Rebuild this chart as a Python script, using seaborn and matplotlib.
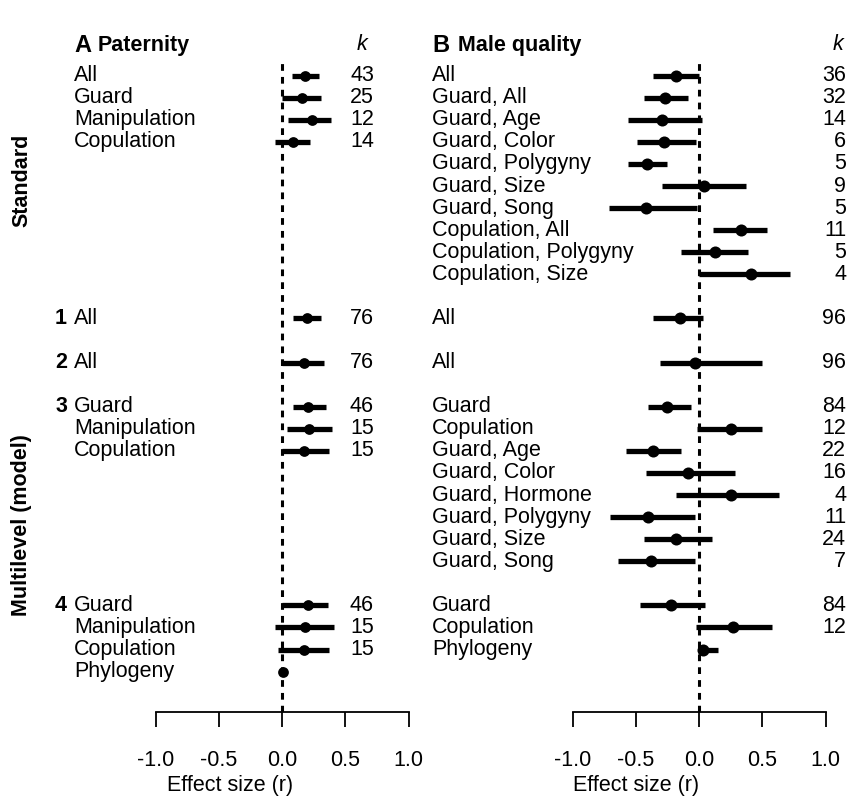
import matplotlib
matplotlib.use("Agg")
import matplotlib.pyplot as plt
import seaborn as sns
import pandas as pd

# --- datos: panel A (Paternity) ---
pat_labels = ["All", "Guard", "Manipulation", "Copulation",
              "All", "All",
              "Guard", "Manipulation", "Copulation",
              "Guard", "Manipulation", "Copulation", "Phylogeny"]
pat_est = [0.18, 0.16, 0.235, 0.085, 0.20, 0.17, 0.205, 0.21, 0.175, 0.205, 0.185, 0.175, 0.01]
pat_lo = [0.08, 0.0, 0.05, -0.055, 0.085, 0.0, 0.085, 0.04, 0.0, 0.0, -0.055, -0.035, 0.0]
pat_hi = [0.29, 0.31, 0.39, 0.22, 0.31, 0.33, 0.35, 0.395, 0.375, 0.365, 0.41, 0.375, 0.035]
pat_k = ["43", "25", "12", "14", "76", "76", "46", "15", "15", "46", "15", "15", ""]

# --- datos: panel B (Male quality) ---
mq_labels = ["All", "Guard, All", "Guard, Age", "Guard, Color", "Guard, Polygyny",
             "Guard, Size", "Guard, Song", "Copulation, All", "Copulation, Polygyny",
             "Copulation, Size",
             "All", "All",
             "Guard", "Copulation", "Guard, Age", "Guard, Color", "Guard, Hormone",
             "Guard, Polygyny", "Guard, Size", "Guard, Song",
             "Guard", "Copulation", "Phylogeny"]
mq_est = [-0.18, -0.27, -0.29, -0.275, -0.41, 0.04, -0.42, 0.335, 0.13, 0.415,
          -0.15, -0.03,
          -0.25, 0.255, -0.365, -0.09, 0.25, -0.40, -0.185, -0.38,
          -0.22, 0.265, 0.035]
mq_lo = [-0.36, -0.435, -0.56, -0.49, -0.56, -0.29, -0.71, 0.11, -0.145, 0.0,
         -0.36, -0.31,
         -0.40, -0.015, -0.58, -0.42, -0.18, -0.70, -0.435, -0.64,
         -0.465, -0.02, 0.0]
mq_hi = [0.0, -0.09, 0.02, -0.025, -0.25, 0.37, -0.015, 0.535, 0.39, 0.72,
         0.03, 0.495,
         -0.06, 0.495, -0.145, 0.285, 0.635, -0.03, 0.10, -0.03,
         0.05, 0.575, 0.15]
mq_k = ["36", "32", "14", "6", "5", "9", "5", "11", "5", "4", "96", "96",
        "84", "12", "22", "16", "4", "11", "24", "7", "84", "12", ""]

model_nums = ["1", "2", "3", "4"]

# filas (posicion vertical de cada estimacion)
pat_rows = [0, 1, 2, 3, 11, 13, 15, 16, 17, 24, 25, 26, 27]
mq_rows = list(range(10)) + [11, 13] + list(range(15, 23)) + [24, 25, 26]
model_rows = [11, 13, 15, 24]

sns.set_style("white")
plt.rcParams['font.family'] = ['Liberation Sans', 'DejaVu Sans']
plt.rcParams['text.color'] = 'black'
plt.rcParams['axes.labelcolor'] = 'black'
plt.rcParams['xtick.color'] = 'black'
plt.rcParams['axes.edgecolor'] = 'black'
FS = 15.5

W, H = 847, 798
fig = plt.figure(figsize=(W / 100, H / 100), dpi=100)

PX_UNIT = 126.5  # pixeles por unidad de r
ROW0, ROW_H = 75.7, 22.07
AX_TOP, AX_BOT = 62, 712


def make_ax(x0, x1, zero_px):
    ax = fig.add_axes([x0 / W, 1 - AX_BOT / H, (x1 - x0) / W, (AX_BOT - AX_TOP) / H])
    ax.set_xlim((x0 - zero_px) / PX_UNIT, (x1 - zero_px) / PX_UNIT)
    ax.set_ylim((AX_BOT - ROW0) / ROW_H, (AX_TOP - ROW0) / ROW_H)
    return ax


def panel(ax, labels, est, lo, hi, k, rows, lab_x, k_x, msize):
    df = pd.DataFrame({"label": labels, "est": est, "lo": lo, "hi": hi, "k": k, "row": rows})
    ax.axvline(0, color="black", lw=2.2, ls=(0, (2.2, 2.0)), zorder=1)
    ax.hlines(df["row"], df["lo"], df["hi"], color="black", lw=3.8, zorder=2)
    sns.scatterplot(data=df, x="est", y="row", ax=ax, color="black", s=msize,
                    edgecolor="black", linewidth=0, zorder=3, legend=False)
    for _, r in df.iterrows():
        ax.text(lab_x, r["row"], r["label"], ha="left", va="center", fontsize=FS)
        ax.text(k_x, r["row"], r["k"], ha="right", va="center", fontsize=FS)
    for s in ["top", "left", "right"]:
        ax.spines[s].set_visible(False)
    ax.spines["bottom"].set_bounds(-1, 1)
    ax.spines["bottom"].set_linewidth(1.3)
    ax.set_xticks([-1.0, -0.5, 0.0, 0.5, 1.0])
    ax.set_xticklabels(["-1.0", "-0.5", "0.0", "0.5", "1.0"], fontsize=FS)
    ax.tick_params(axis="x", direction="out", length=11, width=1.3, pad=16, bottom=True)
    ax.set_yticks([])
    ax.set_xlabel("Effect size (r)", fontsize=FS, labelpad=3)
    ax.set_ylabel("")


axA = make_ax(40, 420, 282)
panel(axA, pat_labels, pat_est, pat_lo, pat_hi, pat_k, pat_rows,
      (74 - 282) / PX_UNIT, (374 - 282) / PX_UNIT, 60)
for num, r in zip(model_nums, model_rows):
    axA.text((67 - 282) / PX_UNIT, r, num, ha="right", va="center",
             fontsize=FS, fontweight="bold")

axB = make_ax(425, 847, 699)
panel(axB, mq_labels, mq_est, mq_lo, mq_hi, mq_k, mq_rows,
      (432 - 699) / PX_UNIT, (846 - 699) / PX_UNIT, 75)

# titulos de panel
fig.text(74 / W, 1 - 45 / H, "A", fontsize=FS + 1.5, fontweight="bold", ha="left", va="center")
fig.text(98 / W, 1 - 45 / H, "Paternity", fontsize=FS, fontweight="bold", ha="left", va="center")
fig.text(362 / W, 1 - 45 / H, "k", fontsize=FS, fontstyle="italic", ha="center", va="center")
fig.text(432 / W, 1 - 45 / H, "B", fontsize=FS + 1.5, fontweight="bold", ha="left", va="center")
fig.text(458 / W, 1 - 45 / H, "Male quality", fontsize=FS, fontweight="bold", ha="left", va="center")
fig.text(838 / W, 1 - 45 / H, "k", fontsize=FS, fontstyle="italic", ha="center", va="center")

# etiquetas de grupo
fig.text(22 / W, 1 - 180 / H, "Standard", rotation=90, fontsize=FS,
         fontweight="bold", ha="center", va="center")
fig.text(22 / W, 1 - 525 / H, "Multilevel (model)", rotation=90, fontsize=FS,
         fontweight="bold", ha="center", va="center")

fig.savefig("out.png", dpi=100)
